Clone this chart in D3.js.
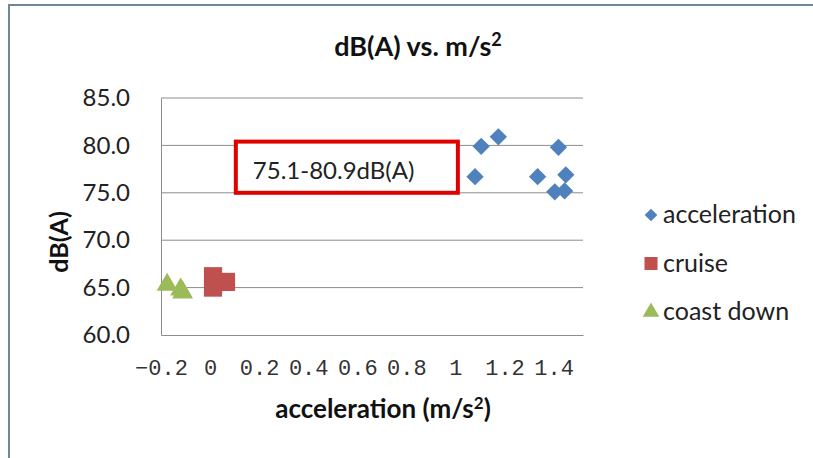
<!DOCTYPE html>
<html>
<head>
<meta charset="utf-8">
<script src="https://cdn.jsdelivr.net/npm/d3@7"></script>
<style>
  body { margin: 0; background: #fff; }
  svg { display: block; }
</style>
</head>
<body>
<script>
// series values
const accelX = [1.08, 1.105, 1.175, 1.335, 1.42, 1.45, 1.405, 1.445];
const accelY = [76.7, 79.9, 80.9, 76.7, 79.8, 76.9, 75.1, 75.2];
const cruiseX = [0.012, 0.012, 0.065];
const cruiseY = [66.2, 65.0, 65.6];
const coastX = [-0.175, -0.12, -0.112];
const coastY = [65.3, 64.8, 64.5];

const seriesNames = ["acceleration", "cruise", "coast down"];
const xTicks = [-0.2, 0, 0.2, 0.4, 0.6, 0.8, 1, 1.2, 1.4];
const yTicks = [60, 65, 70, 75, 80, 85];
const noteText = "75.1-80.9dB(A)";

const W = 813, H = 458;
const margin = { left: 161, right: 230, top: 98, bottom: 123 };
const pw = W - margin.left - margin.right;
const ph = H - margin.top - margin.bottom;

const svg = d3.select("body").append("svg")
    .attr("width", W)
    .attr("height", H);

// outer chart frame (only top and left edges show)
svg.append("path")
    .attr("d", `M9,${H} V5 H${W}`)
    .attr("fill", "none")
    .attr("stroke", "#6f8797")
    .attr("stroke-width", 2);

const g = svg.append("g")
    .attr("transform", `translate(${margin.left},${margin.top})`);

const x = d3.scaleLinear().domain([-0.2, 1.52]).range([0, pw]);
const y = d3.scaleLinear().domain([60, 85]).range([ph, 0]);

const colors = ["#4f81bd", "#c0504d", "#9bbb59"];
const font = "Lato, 'Open Sans', sans-serif";

// gridlines
g.selectAll("line.grid")
    .data(yTicks.slice(1))
    .enter()
    .append("line")
    .attr("class", "grid")
    .attr("x1", 0).attr("x2", pw)
    .attr("y1", d => y(d)).attr("y2", d => y(d))
    .attr("stroke", "#8c8c8c")
    .attr("stroke-width", 1);

// y axis
const yAxis = g.append("g")
    .call(d3.axisLeft(y).tickValues(yTicks).tickFormat(d3.format(".1f")).tickSize(0).tickPadding(31));
yAxis.select(".domain").attr("stroke", "#8c8c8c");
yAxis.selectAll("text")
    .style("font-family", font)
    .style("font-size", "24px")
    .attr("fill", "#222");

// x axis
const xAxis = g.append("g")
    .attr("transform", `translate(0,${ph})`)
    .call(d3.axisBottom(x).tickValues(xTicks).tickFormat(d => d3.format("")(d).replace("-", "\u2212")).tickSize(0).tickPadding(24));
xAxis.select(".domain").attr("stroke", "#8c8c8c");
xAxis.selectAll("text")
    .style("font-family", "'Liberation Mono', 'DejaVu Sans Mono', monospace")
    .style("font-size", "22px")
    .attr("fill", "#333");

// markers
const shapes = [
    d3.symbol().type(d3.symbolSquare).size(150),
    d3.symbol().type(d3.symbolSquare).size(330),
    d3.symbol().type(d3.symbolTriangle).size(190)
];
const seriesData = [
    accelX.map((v, i) => [v, accelY[i]]),
    cruiseX.map((v, i) => [v, cruiseY[i]]),
    coastX.map((v, i) => [v, coastY[i]])
];

seriesData.forEach((pts, s) => {
    g.selectAll("path.s" + s)
        .data(pts)
        .enter()
        .append("path")
        .attr("class", "s" + s)
        .attr("d", shapes[s]())
        .attr("fill", colors[s])
        .attr("transform", d => `translate(${x(d[0])},${y(d[1])})` + (s === 0 ? " rotate(45)" : ""));
});

// note box
const box = g.append("g").attr("transform", `translate(${x(0.105)},${y(80.4)})`);
box.append("rect")
    .attr("width", x(0.93) - x(0.025))
    .attr("height", y(75) - y(80.4))
    .attr("fill", "#fff")
    .attr("stroke", "#e00000")
    .attr("stroke-width", 4);
box.append("text")
    .attr("x", 17)
    .attr("y", 37)
    .style("font-family", font)
    .style("font-size", "24px")
    .attr("fill", "#222")
    .text(noteText);

// title
svg.append("text")
    .attr("x", 418).attr("y", 56)
    .attr("text-anchor", "middle")
    .style("font-family", font)
    .style("font-size", "27px")
    .style("font-weight", "bold")
    .attr("fill", "#111")
    .html("dB(A) vs. m/s<tspan dy='-10' font-size='18px'>2</tspan>");

// axis titles
svg.append("text")
    .attr("transform", "translate(68,242) rotate(-90)")
    .attr("text-anchor", "middle")
    .style("font-family", font)
    .style("font-size", "25px")
    .style("font-weight", "bold")
    .attr("fill", "#111")
    .text("dB(A)");

svg.append("text")
    .attr("x", 383).attr("y", 418)
    .attr("text-anchor", "middle")
    .style("font-family", font)
    .style("font-size", "26px")
    .style("font-weight", "bold")
    .attr("fill", "#111")
    .html("acceleration (m/s<tspan dy='-9' font-size='17px'>2</tspan><tspan dy='9'>)</tspan>");

// legend
const legendShapes = [
    d3.symbol().type(d3.symbolSquare).size(80),
    d3.symbol().type(d3.symbolSquare).size(170),
    d3.symbol().type(d3.symbolTriangle).size(120)
];
const legend = svg.append("g").attr("transform", "translate(651,215)");
seriesNames.forEach((name, i) => {
    const row = legend.append("g").attr("transform", `translate(0,${i * 48.5})`);
    row.append("path")
        .attr("d", legendShapes[i]())
        .attr("fill", colors[i])
        .attr("transform", i === 0 ? "rotate(45)" : null);
    row.append("text")
        .attr("x", 12)
        .attr("y", 8)
        .style("font-family", font)
        .style("font-size", "25px")
        .attr("fill", "#222")
        .text(name);
});
</script>
</body>
</html>
